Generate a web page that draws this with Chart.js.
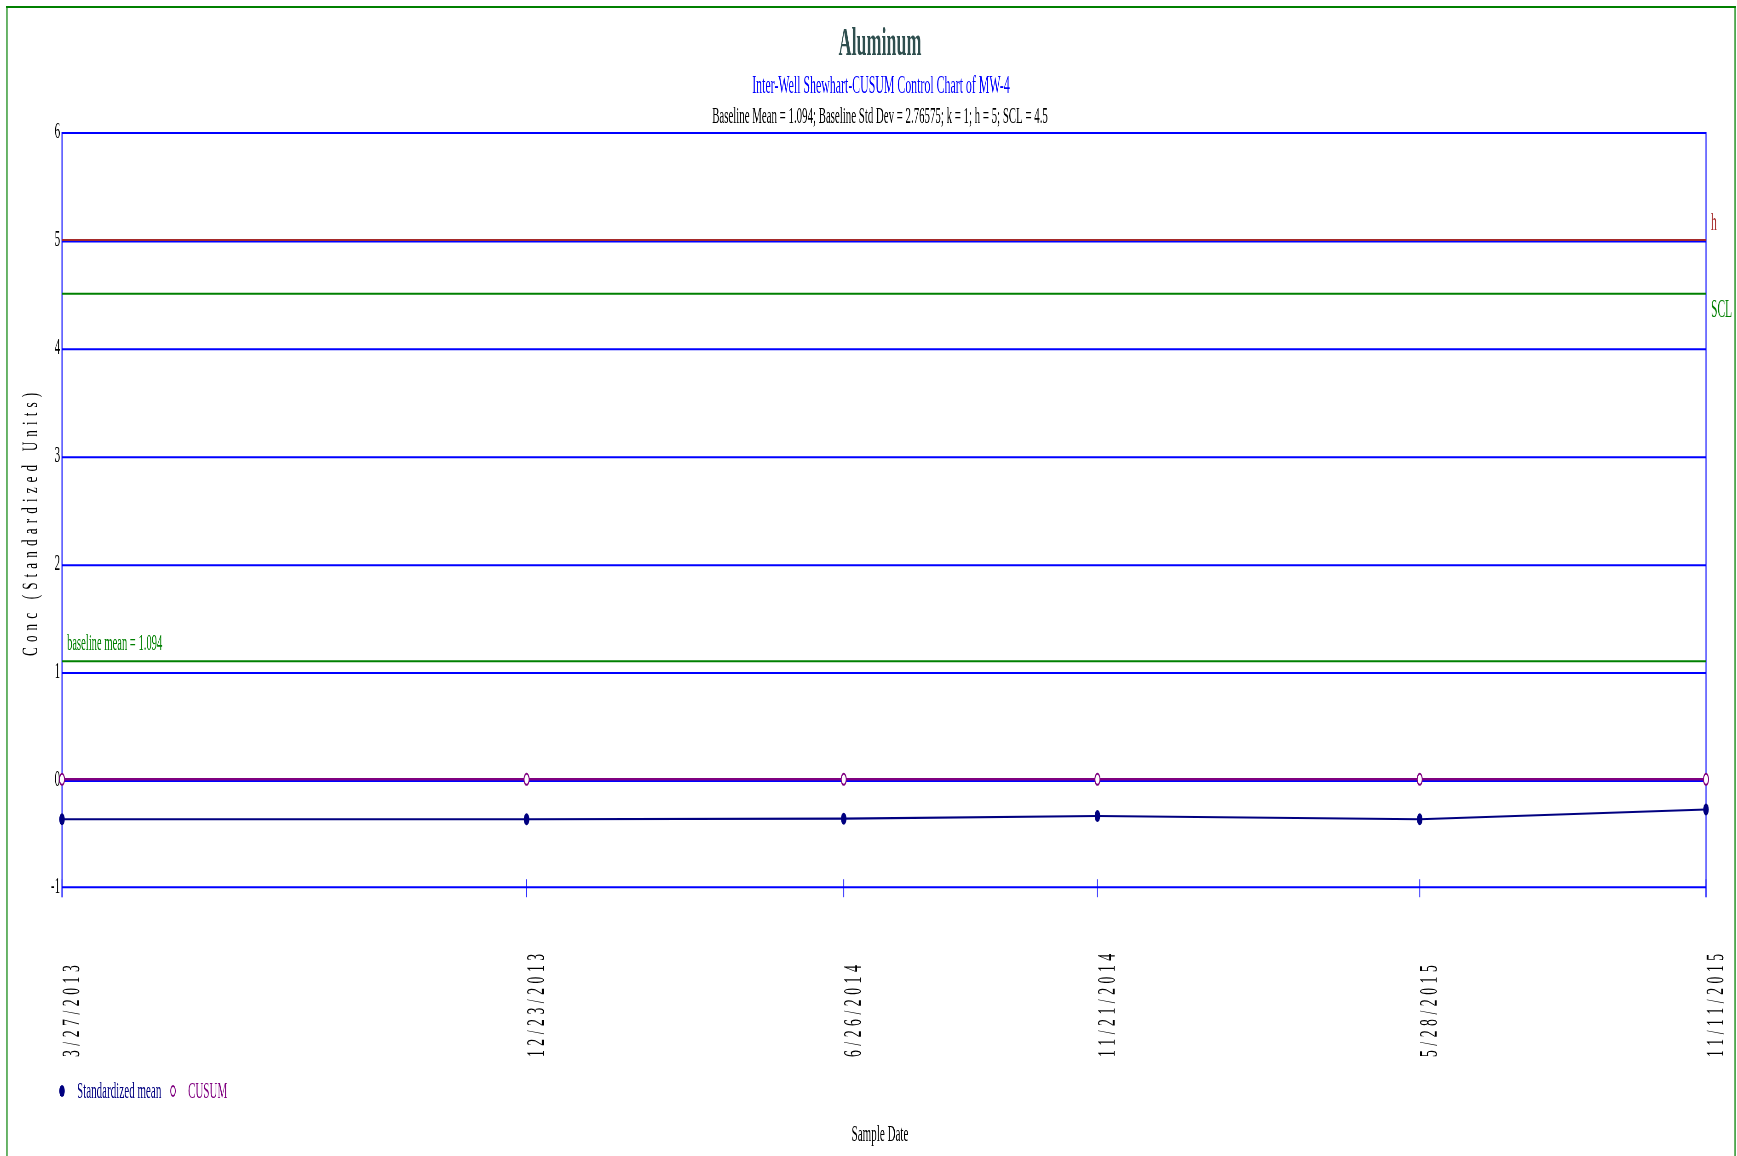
<!DOCTYPE html>
<html>
<head>
<meta charset="utf-8">
<title>Aluminum</title>
<script src="https://cdn.jsdelivr.net/npm/chart.js@4/dist/chart.umd.min.js"></script>
<style>
  html, body { margin: 0; padding: 0; background: #fff; overflow: hidden; }
  #c { position: absolute; left: 0; top: 0; transform-origin: 0 0; }
</style>
</head>
<body>
<canvas id="c" width="3776" height="1156"></canvas>
<script>
// ---- data ----
const sampleDates = ['3/27/2013', '12/23/2013', '6/26/2014', '11/21/2014', '5/28/2015', '11/11/2015'];
const standardizedMean = [-0.37, -0.37, -0.365, -0.34, -0.37, -0.28];
const cusum = [0, 0, 0, 0, 0, 0];
const yTicks = [-1, 0, 1, 2, 3, 4, 5, 6];
const baselineMean = 1.094;
const hLimit = 5;
const sclLimit = 4.5;
const seriesNames = ['Standardized mean', 'CUSUM'];

const titleText = 'Aluminum';
const subtitleText = 'Inter-Well Shewhart-CUSUM Control Chart of MW-4';
const statsText = 'Baseline Mean = 1.094; Baseline Std Dev = 2.76575; k = 1; h = 5; SCL = 4.5';
const yTitle = 'Conc (Standardized Units)';
const xTitle = 'Sample Date';

// ---- layout: the chart is drawn wide and squeezed horizontally ----
const CANVAS_W = 3776, CANVAS_H = 1156;
const S = 1737 / CANVAS_W;            // horizontal squeeze factor
const X = px => px / S;               // page x -> canvas x
const canvas = document.getElementById('c');
canvas.style.transform = 'scaleX(' + S + ')';

const SERIF = '"Liberation Serif", "Times New Roman", serif';

function dayOf(str) {
  const [m, d, y] = str.split('/').map(Number);
  return Date.UTC(y, m - 1, d) / 86400000;
}
const firstDay = dayOf(sampleDates[0]);
// days elapsed since the first sample
const dateDay = sampleDates.map(s => dayOf(s) - firstDay);
const lastDay = dateDay[dateDay.length - 1];

function refLine(value, color) {
  return {
    label: '', data: [{ x: 0, y: value }, { x: lastDay, y: value }],
    borderColor: color, borderWidth: 2, pointRadius: 0, tension: 0, order: 5
  };
}

// draw a string rotated to read upward, condensed and letter-spaced
function drawUpText(ctx, text, x, y, size, color, along, thick, gap, capRatio) {
  ctx.save();
  ctx.translate(x, y);
  ctx.rotate(-Math.PI / 2);
  ctx.scale(along, thick);
  ctx.font = size + 'px ' + SERIF;
  ctx.fillStyle = color;
  ctx.textAlign = 'left';
  ctx.textBaseline = 'alphabetic';
  let pos = 0;
  for (const ch of text) {
    ctx.fillText(ch, pos, size * capRatio);
    pos += ctx.measureText(ch).width + gap / along;
  }
  ctx.restore();
}

function hline(ctx, x1, x2, y) { ctx.beginPath(); ctx.moveTo(x1, y); ctx.lineTo(x2, y); ctx.stroke(); }
function vline(ctx, x, y1, y2) { ctx.beginPath(); ctx.moveTo(x, y1); ctx.lineTo(x, y2); ctx.stroke(); }

const framePlugin = {
  id: 'frameAndGrid',
  beforeDatasetsDraw(chart) {
    const { ctx, chartArea: a, scales: { x, y } } = chart;
    ctx.save();
    // outer green frame
    ctx.strokeStyle = '#008000';
    ctx.lineWidth = 2;
    hline(ctx, X(6), X(1736), 7);
    ctx.lineWidth = 2.4;
    vline(ctx, X(7), 6, CANVAS_H);
    vline(ctx, X(1735), 6, CANVAS_H);

    // horizontal grid
    ctx.strokeStyle = '#0000FF';
    ctx.lineWidth = 2;
    yTicks.forEach(v => {
      let py = y.getPixelForValue(v);
      if (v > y.min && v < y.max) py += 1.6;
      else if (v === y.max) py += 1;
      hline(ctx, a.left, a.right, py);
    });
    // plot sides
    ctx.lineWidth = 2.2;
    vline(ctx, a.left, a.top, a.bottom + 10);
    vline(ctx, a.right, a.top, a.bottom + 10);
    // tick marks at the sample dates
    ctx.lineWidth = 2;
    ctx.strokeStyle = 'rgba(0,0,255,0.8)';
    dateDay.forEach(d => {
      const px = x.getPixelForValue(d);
      vline(ctx, px, a.bottom - 8, a.bottom + 10);
    });
    ctx.restore();
  },
  afterDraw(chart) {
    const { ctx, chartArea: a, scales: { x, y } } = chart;
    ctx.save();
    ctx.textAlign = 'center';
    ctx.textBaseline = 'alphabetic';

    // titles
    ctx.fillStyle = '#2F4F4F';
    ctx.font = 'bold 39px ' + SERIF;
    ctx.fillText(titleText, X(880), 55);
    ctx.fillStyle = '#0000FF';
    ctx.font = '25.8px ' + SERIF;
    ctx.fillText(subtitleText, X(881), 93);
    ctx.fillStyle = '#000000';
    ctx.font = '23.6px ' + SERIF;
    ctx.fillText(statsText, X(880), 123);

    // x axis title
    ctx.font = '24px ' + SERIF;
    ctx.fillText(xTitle, X(880), 1141);

    // control-limit labels
    ctx.textAlign = 'left';
    ctx.font = '25px ' + SERIF;
    ctx.fillStyle = '#A52A2A';
    ctx.fillText('h', a.right + X(5), y.getPixelForValue(hLimit) - 10);
    ctx.fillStyle = '#008000';
    ctx.fillText('SCL', a.right + X(5), y.getPixelForValue(sclLimit) + 23);
    ctx.font = '23px ' + SERIF;
    ctx.fillText('baseline mean = ' + baselineMean, a.left + X(5), y.getPixelForValue(baselineMean) - 11);

    // date labels, reading upward from the bottom, beside each sample
    dateDay.forEach((d, i) => {
      drawUpText(ctx, sampleDates[i], x.getPixelForValue(d), 1057, 25, '#000', 0.55, 1 / S, 4.5, 0.68);
    });

    // y axis title
    drawUpText(ctx, yTitle, X(22), 656, 22, '#000', 0.6, 1 / S, 5.1, 0.7);

    // legend
    const ly = 1091;
    const ds = chart.data.datasets;
    ctx.fillStyle = ds[0].pointBackgroundColor;
    ctx.beginPath(); ctx.arc(X(62), ly, 6, 0, Math.PI * 2); ctx.fill();
    ctx.font = '24px ' + SERIF;
    ctx.fillText(ds[0].label, X(77), ly + 7);
    ctx.strokeStyle = ds[1].pointBorderColor;
    ctx.lineWidth = 2;
    ctx.fillStyle = '#fff';
    ctx.beginPath(); ctx.arc(X(173), ly, 5, 0, Math.PI * 2); ctx.fill(); ctx.stroke();
    ctx.fillStyle = ds[1].borderColor;
    ctx.fillText(ds[1].label, X(188), ly + 7);
    ctx.restore();
  }
};

new Chart(canvas, {
  type: 'line',
  data: {
    datasets: [
      {
        label: seriesNames[0],
        data: dateDay.map((d, i) => ({ x: d, y: standardizedMean[i] })),
        borderColor: '#000080', borderWidth: 2.2,
        pointRadius: 6, pointBackgroundColor: '#000080', pointBorderWidth: 0,
        tension: 0, clip: false, order: 1
      },
      {
        label: seriesNames[1],
        data: dateDay.map((d, i) => ({ x: d, y: cusum[i] })),
        borderColor: '#800080', borderWidth: 2.5,
        pointRadius: 5.5, pointBackgroundColor: '#ffffff', pointBorderColor: '#800080', pointBorderWidth: 2,
        tension: 0, clip: false, order: 2
      },
      refLine(hLimit, '#A52A2A'),
      refLine(sclLimit, '#008000'),
      refLine(baselineMean, '#008000')
    ]
  },
  options: {
    responsive: false,
    devicePixelRatio: 1,
    animation: false,
    events: [],
    layout: { padding: { left: 0, right: CANVAS_W - X(1706), top: 132, bottom: CANVAS_H - 887.2 } },
    plugins: { legend: { display: false }, title: { display: false }, tooltip: { enabled: false } },
    scales: {
      x: { type: 'linear', display: false, min: 0, max: lastDay },
      y: {
        type: 'linear', min: -1, max: 6,
        grid: { display: false, drawTicks: false },
        border: { display: false },
        afterFit(scale) { scale.width = X(62); },
        afterBuildTicks(scale) { scale.ticks = yTicks.map(v => ({ value: v })); },
        ticks: { stepSize: 1, padding: 4, color: '#000', font: { family: SERIF, size: 24 } }
      }
    }
  },
  plugins: [framePlugin]
});
</script>
</body>
</html>
